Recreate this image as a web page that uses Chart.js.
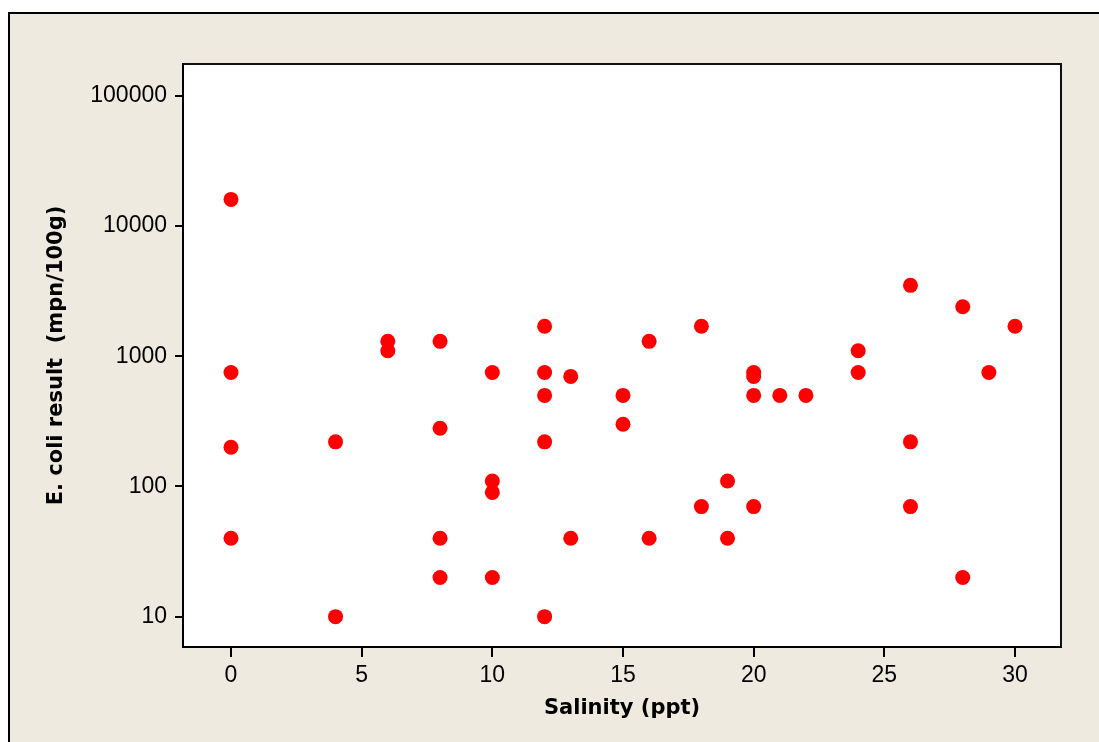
<!DOCTYPE html>
<html>
<head>
<meta charset="utf-8">
<script src="https://cdn.jsdelivr.net/npm/chart.js@4/dist/chart.umd.min.js"></script>
<style>
  html, body { margin: 0; padding: 0; background: #ffffff; }
  #wrap { width: 1099px; height: 742px; position: relative; }
</style>
</head>
<body>
<div id="wrap"><canvas id="c" width="1099" height="742"></canvas></div>
<script>
// Salinity (ppt) of each sample
const salinity = [
  0, 0, 0, 0,
  4, 4,
  6, 6,
  8, 8, 8, 8,
  10, 10, 10, 10,
  12, 12, 12, 12, 12,
  13, 13,
  15, 15,
  16, 16,
  18, 18,
  19, 19,
  20, 20, 20, 20,
  21,
  22,
  24, 24,
  26, 26, 26,
  28, 28,
  29,
  30
];
// E. coli result (mpn/100g) for each sample
const ecoli = [
  16000, 750, 200, 40,
  220, 10,
  1300, 1100,
  1300, 280, 40, 20,
  750, 110, 90, 20,
  1700, 750, 500, 220, 10,
  700, 40,
  500, 300,
  1300, 40,
  1700, 70,
  110, 40,
  750, 700, 500, 70,
  500,
  500,
  1100, 750,
  3500, 220, 70,
  2400, 20,
  750,
  1700
];
const yTickValues = [10, 100, 1000, 10000, 100000];
const xTickStep = 5;

const points = salinity.map((s, i) => ({ x: s, y: ecoli[i] }));

const framePlugin = {
  id: 'frame',
  beforeDraw(chart) {
    const ctx = chart.ctx;
    const a = chart.chartArea;
    ctx.save();
    ctx.fillStyle = '#ffffff';
    ctx.fillRect(0, 0, chart.width, chart.height);
    ctx.fillStyle = '#eeeae0';
    ctx.fillRect(8, 13, chart.width - 8, chart.height - 13);
    ctx.strokeStyle = '#000000';
    ctx.lineWidth = 2;
    ctx.beginPath();
    ctx.moveTo(9, chart.height);
    ctx.lineTo(9, 13);
    ctx.lineTo(chart.width, 13);
    ctx.stroke();
    ctx.fillStyle = '#ffffff';
    ctx.fillRect(a.left, a.top, a.right - a.left, a.bottom - a.top);
    ctx.restore();
  },
  afterDraw(chart) {
    const ctx = chart.ctx;
    const a = chart.chartArea;
    ctx.save();
    ctx.strokeStyle = '#111111';
    ctx.lineWidth = 2;
    ctx.beginPath();
    ctx.moveTo(a.left, a.top);
    ctx.lineTo(a.right, a.top);
    ctx.lineTo(a.right, a.bottom);
    ctx.stroke();
    ctx.restore();
  }
};

new Chart(document.getElementById('c'), {
  type: 'scatter',
  data: {
    datasets: [{
      data: points,
      backgroundColor: '#ff0000',
      borderWidth: 0,
      pointRadius: 7.5,
      pointHoverRadius: 7.5
    }]
  },
  options: {
    responsive: false,
    animation: false,
    events: [],
    layout: { padding: { left: 0, top: 64, right: 38, bottom: 0 } },
    plugins: { legend: { display: false }, tooltip: { enabled: false } },
    scales: {
      x: {
        type: 'linear',
        min: -1.837,
        max: 31.76,
        afterFit(scale) { scale.height = 95; },
        ticks: {
          stepSize: xTickStep,
          includeBounds: false,
          color: '#000000',
          padding: 5,
          font: { family: 'Liberation Sans', size: 23 },
          maxRotation: 0
        },
        grid: {
          drawOnChartArea: false,
          drawTicks: true,
          tickLength: 10,
          color: '#000000',
          lineWidth: 2
        },
        border: { display: true, color: '#000000', width: 2 },
        title: {
          display: true,
          text: 'Salinity (ppt)',
          color: '#000000',
          font: { family: 'DejaVu Sans', size: 21, weight: 'bold' },
          padding: { top: 0, bottom: 21 }
        }
      },
      y: {
        type: 'logarithmic',
        min: 5.85,
        max: 175300,
        afterFit(scale) { scale.width = 183; },
        afterBuildTicks(scale) { scale.ticks = yTickValues.map(v => ({ value: v })); },
        ticks: {
          color: '#000000',
          padding: 8,
          font: { family: 'Liberation Sans', size: 23 },
          callback: (v) => String(v)
        },
        grid: {
          drawOnChartArea: false,
          drawTicks: true,
          tickLength: 8,
          color: '#000000',
          lineWidth: 2
        },
        border: { display: true, color: '#000000', width: 2 },
        title: {
          display: true,
          text: 'E. coli result  (mpn/100g)',
          color: '#000000',
          font: { family: 'DejaVu Sans', size: 21, weight: 'bold' },
          padding: { top: 44, bottom: 0 }
        }
      }
    }
  },
  plugins: [framePlugin]
});
</script>
</body>
</html>
